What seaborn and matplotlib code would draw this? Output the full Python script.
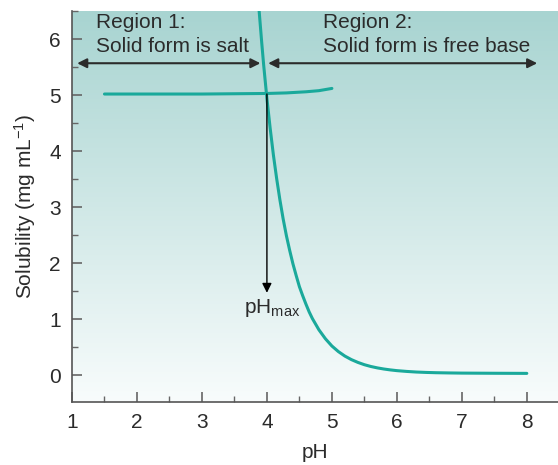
#!/usr/bin/env python3

import matplotlib
matplotlib.use('Agg')
import matplotlib.pyplot as plt
from matplotlib.colors import LinearSegmentedColormap
from matplotlib.ticker import MultipleLocator
import numpy as np
import pandas as pd
import seaborn as sns


# Salt solubility plateau (region 1)
SALT_PH = [1.5, 2.0, 2.5, 3.0, 3.5, 4.0, 4.3, 4.6, 4.8, 5.0]
SALT_S = [5.02, 5.02, 5.02, 5.02, 5.025, 5.03, 5.04, 5.06, 5.08, 5.12]

# Free base solubility curve (region 2)
BASE_PH = [3.88, 3.92, 3.95, 4.0, 4.05, 4.1, 4.15, 4.2, 4.25, 4.3, 4.35,
           4.4, 4.45, 4.5, 4.55, 4.6, 4.65, 4.7, 4.8, 4.9, 5.0, 5.1, 5.2,
           5.3, 5.4, 5.5, 5.6, 5.7, 5.8, 5.9, 6.0, 6.15, 6.3, 6.45, 6.6,
           6.8, 7.0, 7.5, 8.0]
BASE_S = [6.51, 5.94, 5.54, 4.94, 4.41, 3.93, 3.51, 3.13, 2.79, 2.49, 2.23,
          1.99, 1.78, 1.58, 1.42, 1.27, 1.13, 1.01, 0.81, 0.65, 0.52, 0.42,
          0.34, 0.277, 0.227, 0.186, 0.154, 0.129, 0.109, 0.093, 0.080,
          0.066, 0.055, 0.048, 0.043, 0.039, 0.036, 0.033, 0.031]

PH_MAX = 4.0
S_MAX = 5.02

TEAL = '#1aa99b'
DARK = '#2b2b2b'

sns.set_style('ticks')
plt.rcParams['font.family'] = ['Liberation Sans', 'DejaVu Sans']
plt.rcParams['font.size'] = 15
plt.rcParams['mathtext.fontset'] = 'custom'
plt.rcParams['mathtext.rm'] = 'Liberation Sans'
plt.rcParams['mathtext.it'] = 'Liberation Sans:italic'

fig = plt.figure(figsize=(5.58, 4.65), dpi=100)
ax = fig.add_axes([0.129, 0.1355, 0.871, 0.8405])

xlim = (1, 8.48)
ylim = (-0.48, 6.5)

# Background gradient
cmap = LinearSegmentedColormap.from_list('bg', ['#f8fcfc', '#a8d4d1'])
grad = np.linspace(0, 1, 256).reshape(-1, 1)
ax.imshow(grad, aspect='auto', cmap=cmap, origin='lower',
          extent=[xlim[0], xlim[1], ylim[0], ylim[1]], zorder=0)

salt = pd.DataFrame({'pH': SALT_PH, 'S': SALT_S})
base = pd.DataFrame({'pH': BASE_PH, 'S': BASE_S})
sns.lineplot(data=salt, x='pH', y='S', color=TEAL, lw=2.2, ax=ax,
             sort=False, zorder=3)
sns.lineplot(data=base, x='pH', y='S', color=TEAL, lw=2.2, ax=ax,
             sort=False, zorder=3)

# pHmax drop line
ax.annotate('', xy=(PH_MAX, 1.47), xytext=(PH_MAX, S_MAX),
            arrowprops=dict(arrowstyle='-|>', color='black', lw=1.0,
                            mutation_scale=14, shrinkA=0, shrinkB=0))
ax.text(4.08, 1.2, 'pH$_{\\mathrm{max}}$', ha='center', va='center',
        fontsize=15, color=DARK)

# Region arrows
arrow_y = 5.57
for x0, x1 in [(1.08, 3.9), (4.02, 8.16)]:
    ax.annotate('', xy=(x0, arrow_y), xytext=(x1, arrow_y),
                arrowprops=dict(arrowstyle='<|-|>', color=DARK, lw=1.5,
                                mutation_scale=14, shrinkA=0, shrinkB=0))
ax.text(1.37, 6.3, 'Region 1:', ha='left', va='center', color=DARK)
ax.text(1.37, 5.86, 'Solid form is salt', ha='left', va='center', color=DARK)
ax.text(4.86, 6.3, 'Region 2:', ha='left', va='center', color=DARK)
ax.text(4.86, 5.86, 'Solid form is free base', ha='left', va='center',
        color=DARK)

ax.set_xlim(*xlim)
ax.set_ylim(*ylim)
ax.xaxis.set_major_locator(MultipleLocator(1))
ax.xaxis.set_minor_locator(MultipleLocator(0.5))
ax.yaxis.set_major_locator(MultipleLocator(1))
ax.yaxis.set_minor_locator(MultipleLocator(0.5))
ax.tick_params(which='major', direction='in', length=7, width=1.2,
               color='#666666', labelsize=15, labelcolor=DARK, pad=8)
ax.tick_params(which='minor', direction='in', length=4, width=1.0,
               color='#666666')
ax.set_xticks([1, 2, 3, 4, 5, 6, 7, 8])
ax.set_yticks([0, 1, 2, 3, 4, 5, 6])

for side in ['top', 'right']:
    ax.spines[side].set_visible(False)
for side in ['left', 'bottom']:
    ax.spines[side].set_color('#555555')
    ax.spines[side].set_linewidth(1.2)

ax.set_xlabel('pH', fontsize=15, color=DARK, labelpad=8)
ax.set_ylabel('Solubility (mg mL$^{-1}$)', fontsize=15, color=DARK,
              labelpad=8)

fig.savefig('out.png', dpi=100)
plt.close()
